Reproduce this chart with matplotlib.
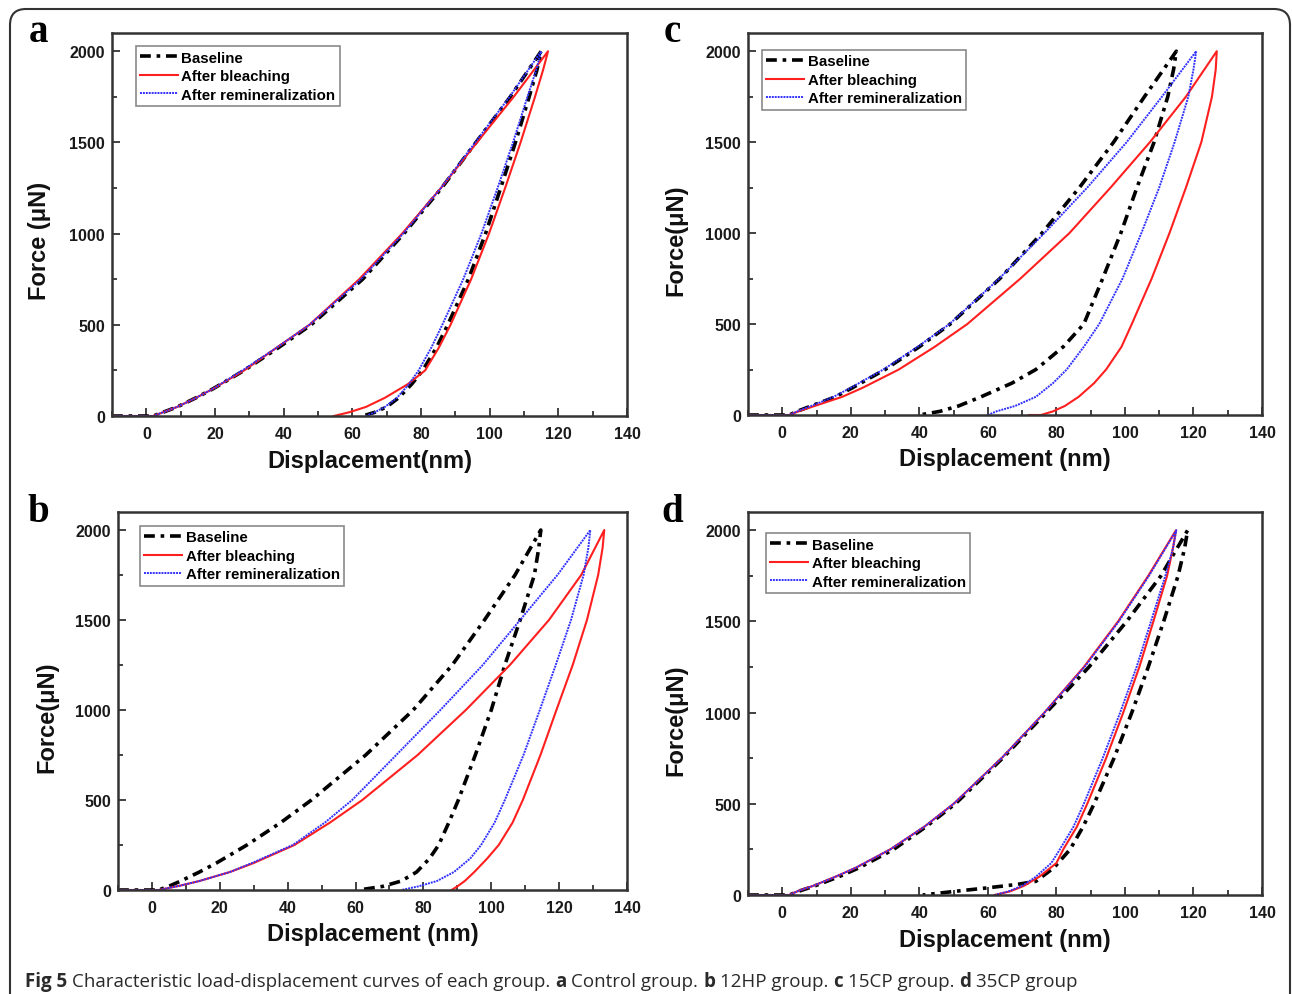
import matplotlib.pyplot as plt
import numpy as np
from matplotlib.patches import FancyBboxPatch
from matplotlib.transforms import IdentityTransform
from matplotlib.ticker import MultipleLocator

plt.rcParams['font.family'] = 'Liberation Sans'
plt.rcParams['font.weight'] = 'bold'

# force levels (uN) at which the displacements below were read
LOAD_F = [0, 0, 25, 50, 100, 150, 250, 375, 500, 750, 1000, 1250, 1500, 1750, 2000]
UNLOAD_F = [2000, 1900, 1750, 1500, 1250, 1000, 750, 500, 375, 250, 175, 100, 50, 20, 0]
C_BLEACH_UNLOAD_F = [2000, 1900, 1750, 1500, 1250, 1000, 750, 500, 375, 250, 175, 100, 50, 20, 0, 0]
D_BASE_UNLOAD_F = [2000, 1900, 1750, 1500, 1250, 1000, 750, 500, 375, 250, 150, 75, 58, 40, 18, 0]

# displacement (nm) - a: control
a_base_load = [-10, 2, 5.5, 9, 14.5, 19.5, 28.5, 38.5, 48, 63, 75, 86, 96, 106, 115]
a_bleach_load = [-10, 2, 5.5, 9, 14.5, 19.5, 28.5, 38, 47.5, 62, 74.5, 85.8, 96.3, 107, 117]
a_remin_load = [-10, 2, 5.5, 9, 14.5, 19.5, 28, 38, 47.5, 62.5, 74.8, 85.8, 95.8, 105.8, 115]
a_base_unload = [115, 113.8, 111.5, 107.5, 103.2, 98.8, 93.8, 87.8, 84.5, 80.5, 77.3, 73.5, 70, 66.5, 63]
a_bleach_unload = [117, 115.6, 113.2, 109, 104.5, 99.8, 94.6, 88.6, 85.2, 81.2, 76.2, 69.5, 64, 59, 54.6]
a_remin_unload = [115, 113.6, 111, 106.8, 102.3, 97.6, 92.3, 86.2, 83, 79.3, 76.5, 73, 69.5, 66.5, 64]

# b: 12HP
b_base_load = [-10, 2, 5.5, 8.5, 14, 19, 28, 38, 47, 63, 77, 88.5, 98, 107, 114.6]
b_bleach_load = [-10, 2, 8.5, 14, 23, 30, 42, 52.5, 62, 78.3, 92.5, 105.5, 117, 126.5, 133.3]
b_remin_load = [-10, 2, 8.5, 14, 23, 29.5, 41.5, 51, 59, 72, 85, 97.5, 108.5, 119.5, 129.2]
b_base_unload = [114.6, 114, 112.7, 108.5, 104, 100, 95.3, 90.3, 87.5, 84.5, 81.8, 78, 73.5, 68, 61]
b_bleach_unload = [133.3, 132.8, 131.5, 128.2, 124, 119.2, 114.5, 109.3, 106.3, 102.2, 98.8, 95, 92.2, 90, 88.3]
b_remin_unload = [129.2, 128.6, 127.2, 123.5, 119, 114.3, 109.5, 104, 101, 97, 93.8, 89, 84, 78.5, 73.5]

# c: 15CP
c_base_load = [-10, 2, 5, 8.5, 15.5, 20.5, 30, 40, 49, 63.5, 75.8, 86.7, 96.7, 105.7, 115]
c_bleach_load = [-10, 2, 5.5, 9.5, 17.5, 23.5, 34, 44.5, 54, 69.5, 83.8, 95.8, 107.3, 117.8, 126.8]
c_remin_load = [-10, 2, 5, 8.5, 15, 20, 29.5, 39.5, 48.8, 63.3, 76.5, 89, 100.5, 110.8, 120.8]
c_base_unload = [115, 114.2, 112.5, 108.5, 103.5, 98.8, 93.5, 88, 82, 74, 67, 58, 51.5, 46, 40]
c_bleach_unload = [126.8, 126.5, 125.4, 122.3, 117.8, 113, 107.8, 102, 99, 94.5, 91, 86.5, 82.5, 79, 75.5, 72]
c_remin_unload = [120.8, 120, 118.5, 114.5, 110, 104.8, 99.3, 92.5, 88, 83, 79, 74, 68, 62.5, 60]

# d: 35CP
d_base_load = [-10, 2, 5.5, 9.5, 16.5, 22.5, 32.5, 42, 50.5, 64.3, 77, 89.5, 100.5, 110.5, 118.3]
d_bleach_load = [-10, 2, 5, 9, 15.5, 21.5, 31.5, 41.5, 50, 64, 76.5, 88, 98, 106.8, 114.9]
d_remin_load = [-10, 2, 5, 9, 15.5, 21.5, 31.5, 41.5, 50, 64, 76.5, 88.2, 98.2, 107, 115]
d_base_unload = [118.3, 117.4, 115.5, 111.3, 106.8, 102, 96.8, 91, 87.8, 84, 79.3, 74, 68.5, 60.3, 49.4, 41]
d_bleach_unload = [114.9, 114, 112.3, 108.3, 104.2, 99.5, 94.5, 89, 86, 82, 80, 75, 70.5, 66.5, 62]
d_remin_unload = [115, 114, 111.8, 107.6, 103.4, 98.6, 93.5, 88, 85, 81, 78.5, 74, 70, 66, 62]

labels = ["Baseline", "After bleaching", "After remineralization"]
x_ticks = [0, 20, 40, 60, 80, 100, 120, 140]
y_ticks = [0, 500, 1000, 1500, 2000]

styles = [
    dict(color='black', lw=2.6, ls=(0, (3, 1.6, 1, 1.6))),
    dict(color='#ff1f1f', lw=1.5, ls='-'),
    dict(color='#3030ff', lw=1.4, ls=(0, (1, 0.5))),
]

W, H = 1292, 995
fig = plt.figure(figsize=(W / 100, H / 100), dpi=100)


def box(l, t, r, b):
    return [l / W, 1 - b / H, (r - l) / W, (b - t) / H]


panels = [
    ("a", box(112, 34, 627, 417), "Force (μN)", "Displacement(nm)", (0.046, 0.966), (38, 33),
     [(a_base_load, a_base_unload, UNLOAD_F), (a_bleach_load, a_bleach_unload, UNLOAD_F),
      (a_remin_load, a_remin_unload, UNLOAD_F)]),
    ("c", box(748, 34, 1262, 416), "Force(μN)", "Displacement (nm)", (0.027, 0.956), (672, 33),
     [(c_base_load, c_base_unload, UNLOAD_F), (c_bleach_load, c_bleach_unload, C_BLEACH_UNLOAD_F),
      (c_remin_load, c_remin_unload, UNLOAD_F)]),
    ("b", box(118, 513, 627, 891), "Force(μN)", "Displacement (nm)", (0.043, 0.963), (38, 513),
     [(b_base_load, b_base_unload, UNLOAD_F), (b_bleach_load, b_bleach_unload, UNLOAD_F),
      (b_remin_load, b_remin_unload, UNLOAD_F)]),
    ("d", box(748, 513, 1262, 896), "Force(μN)", "Displacement (nm)", (0.035, 0.945), (672, 513),
     [(d_base_load, d_base_unload, D_BASE_UNLOAD_F), (d_bleach_load, d_bleach_unload, UNLOAD_F),
      (d_remin_load, d_remin_unload, UNLOAD_F)]),
]

for letter, rect, ylab, xlab, leg_xy, lab_xy, curves in panels:
    ax = fig.add_axes(rect)
    for (load, unload, uf), st, name in zip(curves, styles, labels):
        ax.plot(load + unload, LOAD_F + uf, color=st['color'], lw=st['lw'], ls=st['ls'], label=name)
    ax.set_xlim(-10, 140)
    ax.set_ylim(0, 2100)
    ax.set_xticks(x_ticks)
    ax.set_yticks(y_ticks)
    ax.xaxis.set_minor_locator(MultipleLocator(10))
    ax.yaxis.set_minor_locator(MultipleLocator(250))
    ax.tick_params(which='both', direction='in', top=False, right=False, width=1.3,
                   color='#333333', labelcolor='#1a1a1a', labelsize=11.5)
    ax.tick_params(which='major', length=6)
    ax.tick_params(which='minor', length=3.5)
    ax.tick_params(axis='x', pad=7)
    ax.tick_params(axis='y', pad=5)
    for lbl in ax.get_xticklabels() + ax.get_yticklabels():
        lbl.set_fontweight('bold')
    for sp in ax.spines.values():
        sp.set_linewidth(1.8)
        sp.set_color('#333333')
    ax.set_xlabel(xlab, fontsize=17, fontweight='bold', color='#111111')
    ax.set_ylabel(ylab, fontsize=17, fontweight='bold', color='#111111')
    ax.xaxis.set_label_coords(0.5, -0.115)
    ax.xaxis.label.set_va('center')
    ax.yaxis.set_label_coords(-0.14, 0.46)
    ax.yaxis.label.set_va('center')
    leg = ax.legend(loc='upper left', bbox_to_anchor=leg_xy, borderaxespad=0, fancybox=False,
                    edgecolor='#8a8a8a', framealpha=1, fontsize=10.8, handlelength=2.5,
                    handletextpad=0.25, labelspacing=0.3, borderpad=0.3)
    leg.get_frame().set_linewidth(1.2)
    fig.text(lab_xy[0] / W, 1 - lab_xy[1] / H, letter, fontsize=28, family='Liberation Serif',
             weight='bold', ha='center', va='center')

# rounded frame around the whole figure
frame = FancyBboxPatch((10, -30), 1280, H - 10 + 30, boxstyle="round,pad=0,rounding_size=16",
                       transform=IdentityTransform(), fill=False, edgecolor='#333333', lw=1.5)
fig.patches.append(frame)

# caption with bold pieces
caption = [("Fig 5", True), ("Characteristic load-displacement curves of each group.", False),
           ("a", True), ("Control group.", False), ("b", True), ("12HP group.", False),
           ("c", True), ("15CP group.", False), ("d", True), ("35CP group", False)]
fig.canvas.draw()
r = fig.canvas.get_renderer()
cap_size = 13.5
t1 = fig.text(0, 0, "xx", fontsize=cap_size, family='Open Sans', weight='normal')
t2 = fig.text(0, 0, "x x", fontsize=cap_size, family='Open Sans', weight='normal')
space = t2.get_window_extent(r).width - t1.get_window_extent(r).width
t1.remove()
t2.remove()
x = 25
for txt, bold in caption:
    t = fig.text(x / W, 1 - 987 / H, txt, fontsize=cap_size, family='Open Sans',
                 weight='bold' if bold else 'normal', color='#2a2a2a', va='baseline')
    x += t.get_window_extent(r).width + space

fig.savefig("out.png", dpi=100)
